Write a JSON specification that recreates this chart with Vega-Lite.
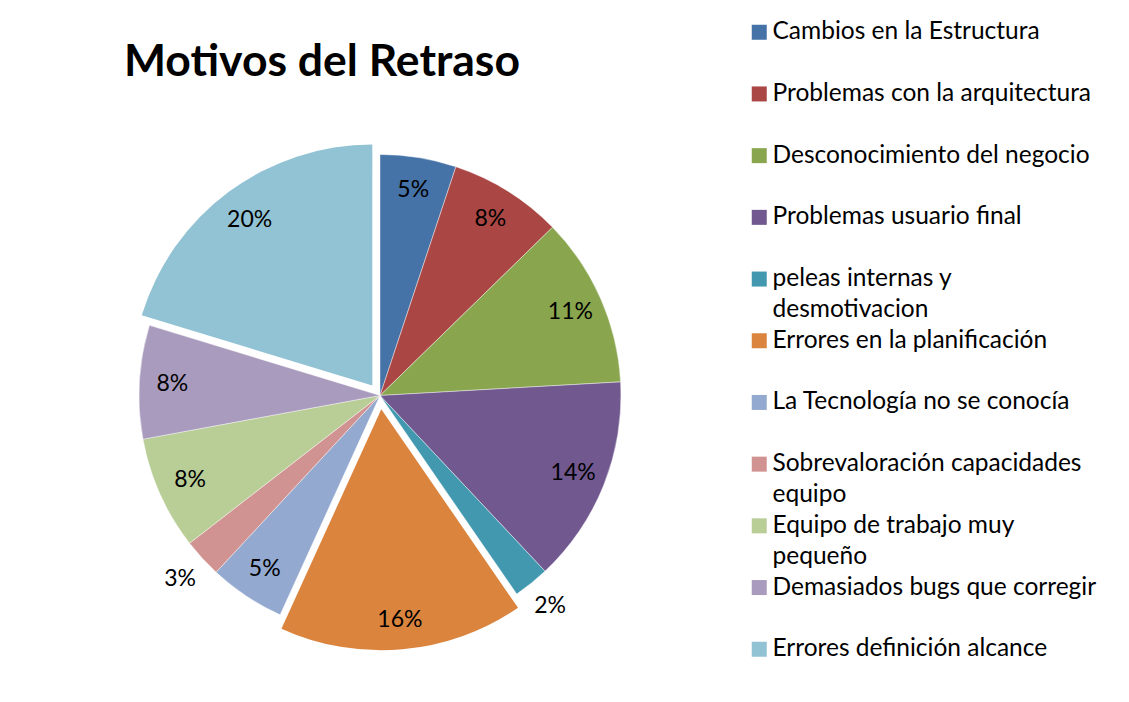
{
  "$schema": "https://vega.github.io/schema/vega-lite/v6.json",
  "autosize": "none",
  "width": 760,
  "height": 599,
  "padding": {"left": 0, "top": 96, "right": 369, "bottom": 7},
  "background": "white",
  "title": {
    "text": "Motivos del Retraso",
    "anchor": "start",
    "font": "Lato",
    "fontSize": 44.5,
    "fontWeight": "bold",
    "color": "#000000",
    "dx": 124,
    "dy": 65,
    "offset": 0
  },
  "data": {
    "values": [
      {"orden": 1, "motivo": "Cambios en la Estructura", "valor": 0.051},
      {"orden": 2, "motivo": "Problemas con la arquitectura", "valor": 0.076},
      {"orden": 3, "motivo": "Desconocimiento del negocio", "valor": 0.114},
      {"orden": 4, "motivo": "Problemas usuario final", "valor": 0.139},
      {"orden": 5, "motivo": "peleas internas y desmotivacion", "valor": 0.024},
      {"orden": 6, "motivo": "Errores en la planificación", "valor": 0.164},
      {"orden": 7, "motivo": "La Tecnología no se conocía", "valor": 0.051},
      {"orden": 8, "motivo": "Sobrevaloración capacidades equipo", "valor": 0.026},
      {"orden": 9, "motivo": "Equipo de trabajo muy pequeño", "valor": 0.076},
      {"orden": 10, "motivo": "Demasiados bugs que corregir", "valor": 0.076},
      {"orden": 11, "motivo": "Errores definición alcance", "valor": 0.203}
    ]
  },
  "encoding": {
    "theta": {"field": "valor", "type": "quantitative", "stack": true},
    "order": {"field": "orden", "type": "quantitative"},
    "color": {
      "field": "motivo",
      "type": "nominal",
      "sort": null,
      "scale": {
        "domain": ["Cambios en la Estructura", "Problemas con la arquitectura", "Desconocimiento del negocio", "Problemas usuario final", "peleas internas y desmotivacion", "Errores en la planificación", "La Tecnología no se conocía", "Sobrevaloración capacidades equipo", "Equipo de trabajo muy pequeño", "Demasiados bugs que corregir", "Errores definición alcance"],
        "range": ["#4572A7", "#AA4643", "#89A54E", "#71588F", "#4198AF", "#DB843D", "#93A9CF", "#D19392", "#B9CD96", "#A99BBD", "#92C3D4"]
      },
      "legend": {
        "title": null,
        "orient": "none",
        "legendX": 747,
        "legendY": -76,
        "padding": 0,
        "symbolType": "square",
        "symbolSize": 225,
        "symbolStrokeWidth": 0,
        "symbolOpacity": 1,
        "labelOffset": 1,
        "labelFont": "Lato",
        "labelFontSize": 24.5,
        "labelColor": "#000000",
        "labelLimit": 400,
        "rowPadding": 5.7,
        "labelExpr": "datum.label == 'peleas internas y desmotivacion' ? ['peleas internas y', 'desmotivacion'] : datum.label == 'Sobrevaloración capacidades equipo' ? ['Sobrevaloración capacidades', 'equipo'] : datum.label == 'Equipo de trabajo muy pequeño' ? ['Equipo de trabajo muy', 'pequeño'] : [datum.label, '']"
      }
    }
  },
  "layer": [
    {
      "mark": {"type": "arc", "outerRadius": 241, "stroke": "#ffffff", "strokeWidth": 0.6, "strokeOpacity": 0.7},
      "encoding": {
        "opacity": {"condition": {"test": "datum.orden == 6 || datum.orden == 11", "value": 0}, "value": 1}
      }
    },
    {
      "mark": {"type": "arc", "outerRadius": 241, "xOffset": 1.3, "yOffset": 13.8},
      "encoding": {
        "opacity": {"condition": {"test": "datum.orden == 6", "value": 1}, "value": 0}
      }
    },
    {
      "mark": {"type": "arc", "outerRadius": 241, "xOffset": -7.7, "yOffset": -10},
      "encoding": {
        "opacity": {"condition": {"test": "datum.orden == 11", "value": 1}, "value": 0}
      }
    },
    {
      "mark": {"type": "text", "radius": 208, "font": "Lato", "fontSize": 23},
      "encoding": {
        "text": {"field": "valor", "type": "quantitative", "format": ".0%"},
        "color": {"value": "#000000"},
        "opacity": {"condition": {"test": "datum.orden == 5 || datum.orden == 6 || datum.orden == 8 || datum.orden == 11", "value": 0}, "value": 1}
      }
    },
    {
      "mark": {"type": "text", "radius": 271, "font": "Lato", "fontSize": 23},
      "encoding": {
        "text": {"field": "valor", "type": "quantitative", "format": ".0%"},
        "color": {"value": "#000000"},
        "opacity": {"condition": {"test": "datum.orden == 5 || datum.orden == 8", "value": 1}, "value": 0}
      }
    },
    {
      "mark": {"type": "text", "radius": 212, "font": "Lato", "fontSize": 23, "xOffset": 1.3, "yOffset": 13.8},
      "encoding": {
        "text": {"field": "valor", "type": "quantitative", "format": ".0%"},
        "color": {"value": "#000000"},
        "opacity": {"condition": {"test": "datum.orden == 6", "value": 1}, "value": 0}
      }
    },
    {
      "mark": {"type": "text", "radius": 206, "font": "Lato", "fontSize": 23, "xOffset": -7.7, "yOffset": -10},
      "encoding": {
        "text": {"field": "valor", "type": "quantitative", "format": ".0%"},
        "color": {"value": "#000000"},
        "opacity": {"condition": {"test": "datum.orden == 11", "value": 1}, "value": 0}
      }
    }
  ],
  "config": {
    "view": {"stroke": null},
    "style": {"guide-label": {"lineHeight": 31}}
  }
}
